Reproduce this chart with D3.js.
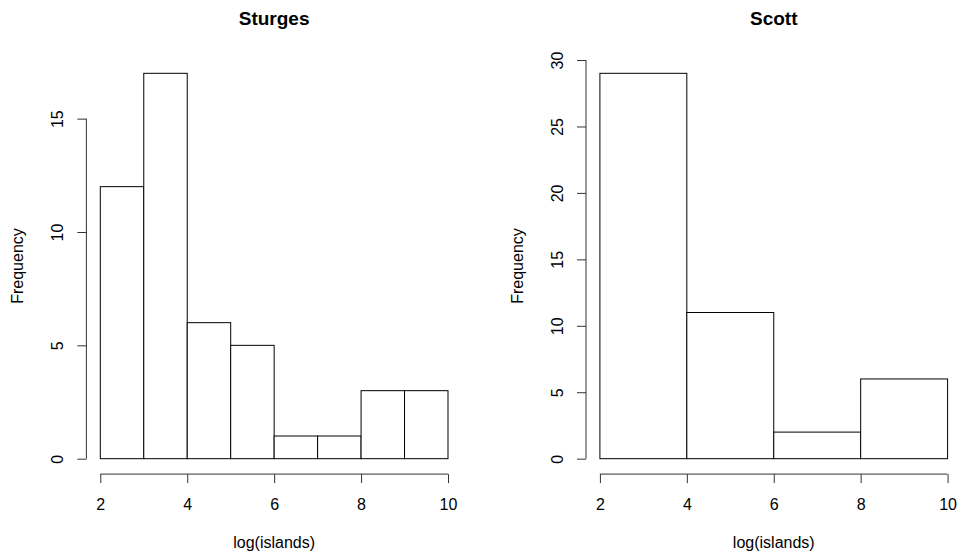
<!DOCTYPE html>
<html>
<head>
<meta charset="utf-8">
<script src="https://cdn.jsdelivr.net/npm/d3@7"></script>
<style>
  body { margin: 0; background: #fff; }
  svg { display: block; font-family: "Liberation Sans", Arial, sans-serif; }
</style>
</head>
<body>
<svg id="chart" width="960" height="558"></svg>
<script>
// histogram of log(islands), two break rules
const sturgesBreaks = [2, 3, 4, 5, 6, 7, 8, 9, 10];
const sturgesCounts = [12, 17, 6, 5, 1, 1, 3, 3];
const scottBreaks = [2, 4, 6, 8, 10];
const scottCounts = [29, 11, 2, 6];
const xTicks = [2, 4, 6, 8, 10];
const sturgesYTicks = [0, 5, 10, 15];
const scottYTicks = [0, 5, 10, 15, 20, 25, 30];

const svg = d3.select('#chart');

// plot region of each panel (R style: 4% padding around the data range)
const panels = [
  { title: 'Sturges', breaks: sturgesBreaks, counts: sturgesCounts, yTicks: sturgesYTicks, ymax: 17, left: 86.4, right: 461.9 },
  { title: 'Scott', breaks: scottBreaks, counts: scottCounts, yTicks: scottYTicks, ymax: 29, left: 586, right: 961.5 }
];
const plotTop = 57.9, plotBottom = 474.1;

panels.forEach(p => {
  const g = svg.append('g');

  const x = d3.scaleLinear()
    .domain([2 - 0.04 * 8, 10 + 0.04 * 8])
    .range([p.left, p.right]);
  const y = d3.scaleLinear()
    .domain([-0.04 * p.ymax, p.ymax * 1.04])
    .range([plotBottom, plotTop]);

  // bars
  const bins = p.counts.map((c, i) => ({ x0: p.breaks[i], x1: p.breaks[i + 1], n: c }));
  g.selectAll('rect.bar')
    .data(bins)
    .join('rect')
    .attr('class', 'bar')
    .attr('x', d => x(d.x0))
    .attr('width', d => x(d.x1) - x(d.x0))
    .attr('y', d => y(d.n))
    .attr('height', d => y(0) - y(d.n))
    .attr('fill', '#fff')
    .attr('stroke', '#000')
    .attr('stroke-width', 1);

  // x axis
  const axisX = d3.axisBottom(x).tickValues(xTicks).tickSize(9).tickSizeOuter(0);
  const gx = g.append('g')
    .attr('transform', `translate(0,${plotBottom})`)
    .call(axisX);
  gx.select('.domain').remove();
  gx.append('line')
    .attr('x1', x(xTicks[0])).attr('x2', x(xTicks[xTicks.length - 1]))
    .attr('stroke', '#333');
  gx.selectAll('.tick line').attr('stroke', '#333');
  gx.selectAll('.tick text')
    .attr('y', 36).attr('dy', 0)
    .attr('fill', '#000')
    .style('font-size', '16px');

  // y axis
  const axisY = d3.axisLeft(y).tickValues(p.yTicks).tickSize(9).tickSizeOuter(0);
  const gy = g.append('g')
    .attr('transform', `translate(${p.left},0)`)
    .call(axisY);
  gy.select('.domain').remove();
  gy.append('line')
    .attr('y1', y(p.yTicks[0])).attr('y2', y(p.yTicks[p.yTicks.length - 1]))
    .attr('stroke', '#333');
  gy.selectAll('.tick line').attr('stroke', '#333');
  gy.selectAll('.tick text')
    .attr('transform', 'rotate(-90)')
    .attr('x', 0).attr('y', -23).attr('dy', 0)
    .attr('text-anchor', 'middle')
    .attr('fill', '#000')
    .style('font-size', '16px');

  // titles and labels
  const cx = (p.left + p.right) / 2;
  g.append('text')
    .attr('x', cx).attr('y', 25)
    .attr('text-anchor', 'middle')
    .style('font-size', '19px')
    .style('font-weight', 'bold')
    .text(p.title);

  g.append('text')
    .attr('x', cx).attr('y', 548)
    .attr('text-anchor', 'middle')
    .style('font-size', '16px')
    .text('log(islands)');

  g.append('text')
    .attr('transform', `translate(${p.left - 63.4},${(plotTop + plotBottom) / 2}) rotate(-90)`)
    .attr('text-anchor', 'middle')
    .style('font-size', '16px')
    .text('Frequency');
});
</script>
</body>
</html>
